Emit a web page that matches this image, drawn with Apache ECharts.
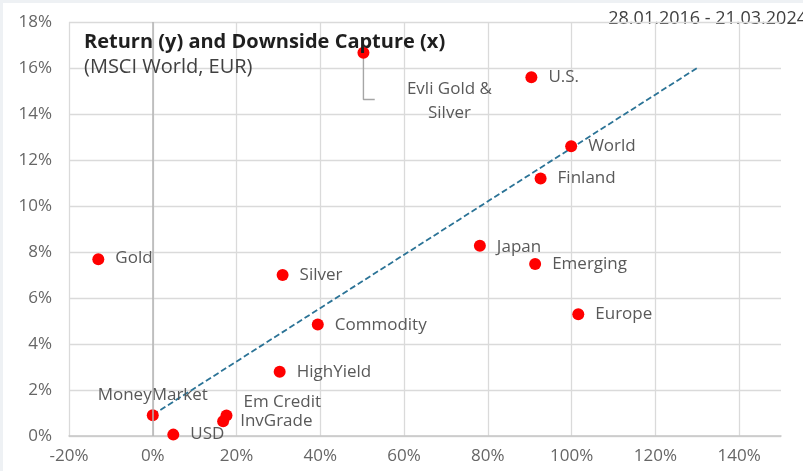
<!DOCTYPE html>
<html>
<head>
<meta charset="utf-8">
<script src="https://cdn.jsdelivr.net/npm/echarts@6/dist/echarts.min.js"></script>
<style>
  html, body { margin: 0; padding: 0; background: #eef1f4; }
  #chart { position: absolute; left: 3px; top: 3px; width: 800px; height: 468px; background: #fff; }
</style>
</head>
<body>
<div id="chart"></div>
<script>
// assets, downside capture (x) and annual return (y)
const names = ['Evli Gold &\nSilver', 'U.S.', 'World', 'Finland', 'Japan', 'Emerging', 'Europe', 'Gold',
  'Silver', 'Commodity', 'HighYield', 'MoneyMarket', 'USD', 'Em Credit', 'InvGrade'];
const captureX = [0.503, 0.904, 0.999, 0.926, 0.781, 0.913, 1.016, -0.130,
  0.310, 0.394, 0.303, 0.000, 0.049, 0.176, 0.168];
const returnY = [0.1666, 0.156, 0.126, 0.112, 0.0827, 0.0748, 0.0529, 0.0768,
  0.070, 0.0485, 0.0279, 0.009, 0.0006, 0.0089, 0.0064];
// trendline ends
const trendX = [0.0, 1.304];
const trendY = [0.0092, 0.1605];

const xTicks = { min: -0.2, max: 1.5, step: 0.2 };
const yTicks = { min: 0, max: 0.18, step: 0.02 };

const FONT = '"Open Sans", "Noto Sans", sans-serif';
const GRAY = '#595959';

// label nudges in px (dx, dy)
const labelNudge = {
  'Evli Gold &\nSilver': [86, 48],
  'Em Credit': [0, -13],
  'Japan': [0, 1],
  'Commodity': [0, 1],
  'Gold': [0, -1]
};

const data = names.map((n, i) => {
  const item = { name: n, value: [captureX[i], returnY[i]] };
  if (n === 'MoneyMarket') item.label = { position: 'top', distance: 6 };
  if (n.startsWith('Evli')) item.label = { position: 'inside', align: 'center', lineHeight: 24 };
  return item;
});

// elbow leader line for the Evli label, hanging off its point
const ev = 0;
const leader = [
  [captureX[ev], returnY[ev]],
  [captureX[ev], returnY[ev] - 0.0203],
  [captureX[ev] + 0.027, returnY[ev] - 0.0203]
];

const chart = echarts.init(document.getElementById('chart'));
chart.setOption({
  animation: false,
  textStyle: { fontFamily: FONT },
  grid: { left: 66, right: 22, top: 19, bottom: 35 },
  title: {
    text: 'Return (y) and Downside Capture (x)',
    subtext: '(MSCI World, EUR)',
    left: 76, top: 24, itemGap: 5,
    textStyle: { fontFamily: FONT, fontSize: 20, fontWeight: 'bold', color: '#1f1f1f' },
    subtextStyle: { fontFamily: FONT, fontSize: 20, color: '#404040' }
  },
  graphic: [{
    type: 'text', right: -4, top: 7,
    style: { text: '28.01.2016 - 21.03.2024', fontFamily: FONT, fontSize: 18, fill: '#404040' }
  }],
  xAxis: {
    type: 'value', min: xTicks.min, max: xTicks.max, interval: xTicks.step,
    axisLine: { show: true, onZero: false, lineStyle: { color: '#c8c8c8', width: 1.5 } },
    axisTick: { show: false },
    axisLabel: {
      color: '#666', fontSize: 17, margin: 12, showMaxLabel: false,
      formatter: v => Math.round(v * 100) + '%'
    },
    splitLine: { show: true, showMaxLine: false, lineStyle: { color: '#dadada', width: 1.3 } }
  },
  yAxis: {
    type: 'value', min: yTicks.min, max: yTicks.max, interval: yTicks.step,
    axisLine: { show: false },
    axisTick: { show: false },
    axisLabel: { color: '#666', fontSize: 17, margin: 17, formatter: v => Math.round(v * 100) + '%' },
    splitLine: { lineStyle: { color: '#dadada', width: 1.3 } }
  },
  series: [
    {
      type: 'line',
      data: trendX.map((x, i) => [x, trendY[i]]),
      showSymbol: false,
      lineStyle: { color: '#2b7396', width: 1.8, type: [6, 3] },
      z: 3,
      markLine: {
        silent: true, symbol: 'none', label: { show: false },
        lineStyle: { color: '#b4b4b4', width: 1.5, type: 'solid' },
        data: [{ xAxis: 0 }]
      }
    },
    {
      type: 'line',
      data: leader,
      showSymbol: false,
      lineStyle: { color: '#a6a6a6', width: 1.4 },
      z: 2
    },
    {
      type: 'scatter',
      data: data,
      symbolSize: 12,
      itemStyle: { color: '#ff0000', opacity: 1 },
      z: 4,
      label: {
        show: true, position: 'right', distance: 11,
        formatter: p => p.name,
        color: GRAY, fontSize: 17, fontFamily: FONT
      },
      labelLayout: p => {
        const d = labelNudge[names[p.dataIndex]];
        return d ? { dx: d[0], dy: d[1] } : {};
      }
    }
  ]
});
</script>
</body>
</html>
